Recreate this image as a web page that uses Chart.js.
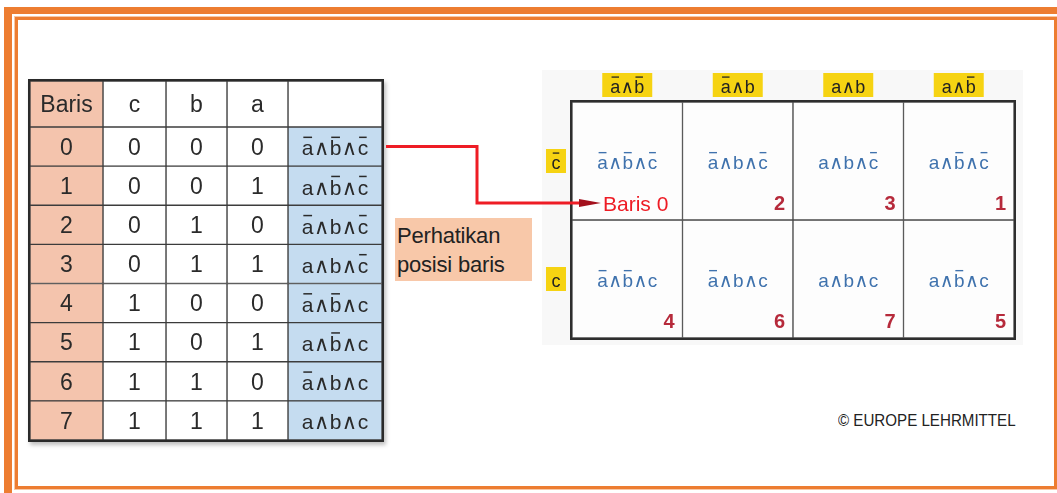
<!DOCTYPE html>
<html>
<head>
<meta charset="utf-8">
<script src="https://cdn.jsdelivr.net/npm/chart.js@4.4.0/dist/chart.umd.min.js"></script>
<style>
    html, body { margin: 0; padding: 0; background: #fff; }
    body { width: 1057px; height: 493px; position: relative; overflow: hidden; font-family: "Liberation Sans", Arial, sans-serif; }
    .frame-outer { position: absolute; left: 4px; top: 7px; width: 1100px; height: 520px; border-left: 8px solid #ed7d31; border-top: 7px solid #ed7d31; box-sizing: border-box; }
    .frame-inner { position: absolute; left: 15px; top: 17px; width: 1042px; height: 472px; border: 3px solid #ed7d31; box-shadow: 0 0 0 1px #f8c7a4; box-sizing: border-box; }
    .table-wrap { position: absolute; left: 28px; top: 79px; width: 356px; height: 363px; border: 2px solid #2a2a2a; box-sizing: border-box; box-shadow: 2px 3px 4px rgba(0,0,0,0.25); }
    canvas { position: absolute; }
    #headChart { left: 30px; top: 81px; }
    #bodyChart { left: 30px; top: 127px; }
    #mapChart { left: 385px; top: 66px; }
    .note { position: absolute; left: 395px; top: 218px; width: 137px; height: 63px; background: #f8c8a9; font-size: 22px; line-height: 29px; color: #222; padding: 3px 0 0 2px; box-sizing: border-box; z-index: 2; letter-spacing: -0.2px; }
    .credit { position: absolute; left: 838px; top: 411px; font-size: 17px; color: #222; transform: scaleX(0.89); transform-origin: left top; white-space: nowrap; }
</style>
</head>
<body>
<div class="frame-outer"></div>
<div class="frame-inner"></div>
<div class="table-wrap"></div>
<canvas id="headChart" width="352" height="46"></canvas>
<canvas id="bodyChart" width="352" height="313"></canvas>
<canvas id="mapChart" width="640" height="282"></canvas>
<div class="note">Perhatikan<br>posisi baris</div>
<div class="credit">© EUROPE LEHRMITTEL</div>

<script>
// Truth table ('!' = negated / overlined letter)
const HEADERS = ['Baris', 'c', 'b', 'a', ''];
const ROWS = ['0', '1', '2', '3', '4', '5', '6', '7'];
const C_VALUES = [0, 0, 0, 0, 1, 1, 1, 1];
const B_VALUES = [0, 0, 1, 1, 0, 0, 1, 1];
const A_VALUES = [0, 1, 0, 1, 0, 1, 0, 1];
const TERMS = ['!a∧!b∧!c', 'a∧!b∧!c', '!a∧b∧!c', 'a∧b∧!c', '!a∧!b∧c', 'a∧!b∧c', '!a∧b∧c', 'a∧b∧c'];

// Karnaugh map
const MAP_COLS = ['!a∧!b', '!a∧b', 'a∧b', 'a∧!b'];
const MAP_ROWS = ['!c', 'c'];
const MAP_NUMBERS_TOP = [0, 2, 3, 1];
const MAP_NUMBERS_BOTTOM = [4, 6, 7, 5];

// layout / style
const COL_WIDTHS = [73, 63, 61, 61, 94];
const COLORS = {
    salmon: '#f4c4ad',
    blue: '#c5dcf0',
    white: '#ffffff',
    grid: '#3c3c3c',
    text: '#2a2a2a',
    mapTerm: '#3f72ad',
    mapNum: '#b62a3b',
    red: '#ee1c25',
    darkRed: '#a3101c',
    yellow: '#f6d312',
    mapBg: '#f8f8f8',
    cell: '#fdfdfd'
};
const FONT = '"Liberation Sans", Arial, sans-serif';

function drawTerm(ctx, term, cx, cy, size, color) {
    const parts = [];
    for (let i = 0; i < term.length; i++) {
        if (term[i] === '!') { parts.push({ t: term[i + 1], bar: true }); i++; }
        else parts.push({ t: term[i], bar: false });
    }
    const letterFont = size + 'px ' + FONT;
    const andFont = Math.round(size * 0.98) + 'px "DejaVu Sans ExtraLight", "DejaVu Sans", sans-serif';
    const gap = size * 0.02;
    ctx.save();
    parts.forEach(p => {
        p.and = p.t === '∧';
        ctx.font = p.and ? andFont : letterFont;
        p.w = ctx.measureText(p.t).width + (p.and ? 2 * gap : 0);
    });
    const total = parts.reduce((s, p) => s + p.w, 0);
    let x = cx - total / 2;
    const base = cy + size * 0.42;
    ctx.fillStyle = color;
    ctx.strokeStyle = color;
    ctx.lineWidth = Math.max(1, size / 14);
    ctx.textAlign = 'left';
    ctx.textBaseline = 'alphabetic';
    parts.forEach(p => {
        ctx.font = p.and ? andFont : letterFont;
        ctx.fillText(p.t, x + (p.and ? gap : 0), base);
        if (p.bar) {
            const yb = base - size * 0.86;
            ctx.beginPath();
            ctx.moveTo(x + size * 0.07, yb);
            ctx.lineTo(x + p.w - size * 0.07, yb);
            ctx.stroke();
        }
        x += p.w;
    });
    ctx.restore();
    return total;
}

// cell texts for table charts
const tableText = {
    id: 'tableText',
    afterDatasetsDraw(chart) {
        const ctx = chart.ctx;
        chart.data.datasets.forEach((ds, i) => {
            chart.getDatasetMeta(i).data.forEach((bar, j) => {
                const text = String(ds.cellText[j]);
                if (!text) return;
                const { x, y } = bar.getCenterPoint();
                if (ds.isTerm) {
                    drawTerm(ctx, text, x, y, 21, COLORS.text);
                } else {
                    ctx.save();
                    ctx.font = '23px ' + FONT;
                    ctx.fillStyle = COLORS.text;
                    ctx.textAlign = 'center';
                    ctx.textBaseline = 'alphabetic';
                    ctx.fillText(text, x, y + 23 * 0.36);
                    ctx.restore();
                }
            });
        });
    }
};

const baseOptions = {
    responsive: false,
    animation: false,
    events: [],
    plugins: { legend: { display: false }, tooltip: { enabled: false } }
};

function tableDatasets(columns, fills, isHeader) {
    return columns.map((col, i) => ({
        data: col.map(() => COL_WIDTHS[i]),
        cellText: col,
        isTerm: !isHeader && i === 4,
        backgroundColor: fills[i],
        borderColor: COLORS.grid,
        borderWidth: 1,
        borderSkipped: false,
        barPercentage: 1,
        categoryPercentage: 1
    }));
}

function tableOptions() {
    return {
        ...baseOptions,
        indexAxis: 'y',
        scales: {
            x: { display: false, stacked: true, min: 0, max: COL_WIDTHS.reduce((a, b) => a + b, 0) },
            y: { display: false, stacked: true }
        }
    };
}

// Header row
new Chart(document.getElementById('headChart'), {
    type: 'bar',
    data: {
        labels: ['head'],
        datasets: tableDatasets(HEADERS.map(h => [h]),
            [COLORS.salmon, COLORS.white, COLORS.white, COLORS.white, COLORS.white], true)
    },
    options: tableOptions(),
    plugins: [tableText]
});

// Rows 0..7
const bodyChart = new Chart(document.getElementById('bodyChart'), {
    type: 'bar',
    data: {
        labels: ROWS,
        datasets: tableDatasets([ROWS, C_VALUES, B_VALUES, A_VALUES, TERMS],
            [COLORS.salmon, COLORS.white, COLORS.white, COLORS.white, COLORS.blue], false)
    },
    options: tableOptions(),
    plugins: [tableText]
});

// Karnaugh map decorations
const mapDecor = {
    id: 'mapDecor',
    beforeDatasetsDraw(chart) {
        const { ctx, chartArea: a } = chart;
        ctx.save();
        ctx.fillStyle = COLORS.mapBg;
        ctx.fillRect(a.left - 30, a.top - 32, a.right - a.left + 39, a.bottom - a.top + 39);
        ctx.restore();
    },
    afterDatasetsDraw(chart) {
        const { ctx, chartArea: a, scales } = chart;
        ctx.save();
        // outer frame
        ctx.strokeStyle = '#2e2e2e';
        ctx.lineWidth = 2;
        ctx.strokeRect(a.left - 1, a.top - 1, a.right - a.left + 2, a.bottom - a.top + 2);

        // column headers
        MAP_COLS.forEach((lab, i) => {
            const x = scales.x.getPixelForValue(i);
            const y = a.top - 17;
            ctx.fillStyle = COLORS.yellow;
            ctx.fillRect(x - 25, y - 12, 50, 24);
            drawTerm(ctx, lab, x, y, 18, '#222');
        });
        // row headers
        MAP_ROWS.forEach((lab, j) => {
            const y = scales.y.getPixelForValue(j + 0.5);
            const x = a.left - 16;
            ctx.fillStyle = COLORS.yellow;
            ctx.fillRect(x - 10, y - 12, 20, 24);
            drawTerm(ctx, lab, x, y, 18, '#222');
        });

        // cell terms and row numbers
        let baris0 = null;
        chart.data.datasets.forEach((ds, j) => {
            chart.getDatasetMeta(j).data.forEach((bar, i) => {
                const p = bar.getProps(['x', 'y', 'base', 'width'], true);
                const top = Math.min(p.y, p.base), bottom = Math.max(p.y, p.base);
                const left = p.x - p.width / 2, right = p.x + p.width / 2;
                drawTerm(ctx, MAP_COLS[i] + '∧' + MAP_ROWS[j], p.x, (top + bottom) / 2, 19, COLORS.mapTerm);
                const num = ds.numbers[i];
                const ny = bottom - 17;
                ctx.textBaseline = 'alphabetic';
                if (num === 0) {
                    ctx.font = '21px ' + FONT;
                    ctx.fillStyle = COLORS.red;
                    ctx.textAlign = 'left';
                    ctx.fillText('Baris ' + num, left + 31, ny + 21 * 0.36);
                    baris0 = { x: left + 31, y: ny };
                } else {
                    ctx.font = 'bold 20px ' + FONT;
                    ctx.fillStyle = COLORS.mapNum;
                    ctx.textAlign = 'right';
                    ctx.fillText(String(num), right - 8, ny + 20 * 0.36);
                }
            });
        });

        // arrow from truth table row 0 to map cell 0
        if (baris0) {
            const me = chart.canvas, body = bodyChart.canvas;
            const tableRight = bodyChart.chartArea.right + body.offsetLeft - me.offsetLeft;
            const rowY = bodyChart.scales.y.getPixelForValue(0) + body.offsetTop - me.offsetTop;
            const x0 = tableRight + 4;
            const elbow = (tableRight + a.left) / 2;
            const tip = baris0.x - 2;
            ctx.strokeStyle = COLORS.red;
            ctx.lineWidth = 3;
            ctx.beginPath();
            ctx.moveTo(x0, rowY);
            ctx.lineTo(elbow, rowY);
            ctx.lineTo(elbow, baris0.y);
            ctx.lineTo(tip - 20, baris0.y);
            ctx.stroke();
            ctx.fillStyle = COLORS.darkRed;
            ctx.beginPath();
            ctx.moveTo(tip, baris0.y);
            ctx.lineTo(tip - 22, baris0.y - 4);
            ctx.lineTo(tip - 22, baris0.y + 4);
            ctx.closePath();
            ctx.fill();
        }
        ctx.restore();
    }
};

new Chart(document.getElementById('mapChart'), {
    type: 'bar',
    data: {
        labels: MAP_COLS,
        datasets: [MAP_NUMBERS_TOP, MAP_NUMBERS_BOTTOM].map(nums => ({
            data: MAP_COLS.map(() => 1),
            numbers: nums,
            backgroundColor: COLORS.cell,
            borderColor: '#4a4a4a',
            borderWidth: 1,
            borderSkipped: false,
            barPercentage: 1,
            categoryPercentage: 1
        }))
    },
    options: {
        ...baseOptions,
        layout: { padding: { left: 187, top: 36, right: 11, bottom: 10 } },
        scales: {
            x: { display: false, stacked: true },
            y: { display: false, stacked: true, min: 0, max: MAP_ROWS.length, reverse: true }
        }
    },
    plugins: [mapDecor]
});
</script>
</body>
</html>
